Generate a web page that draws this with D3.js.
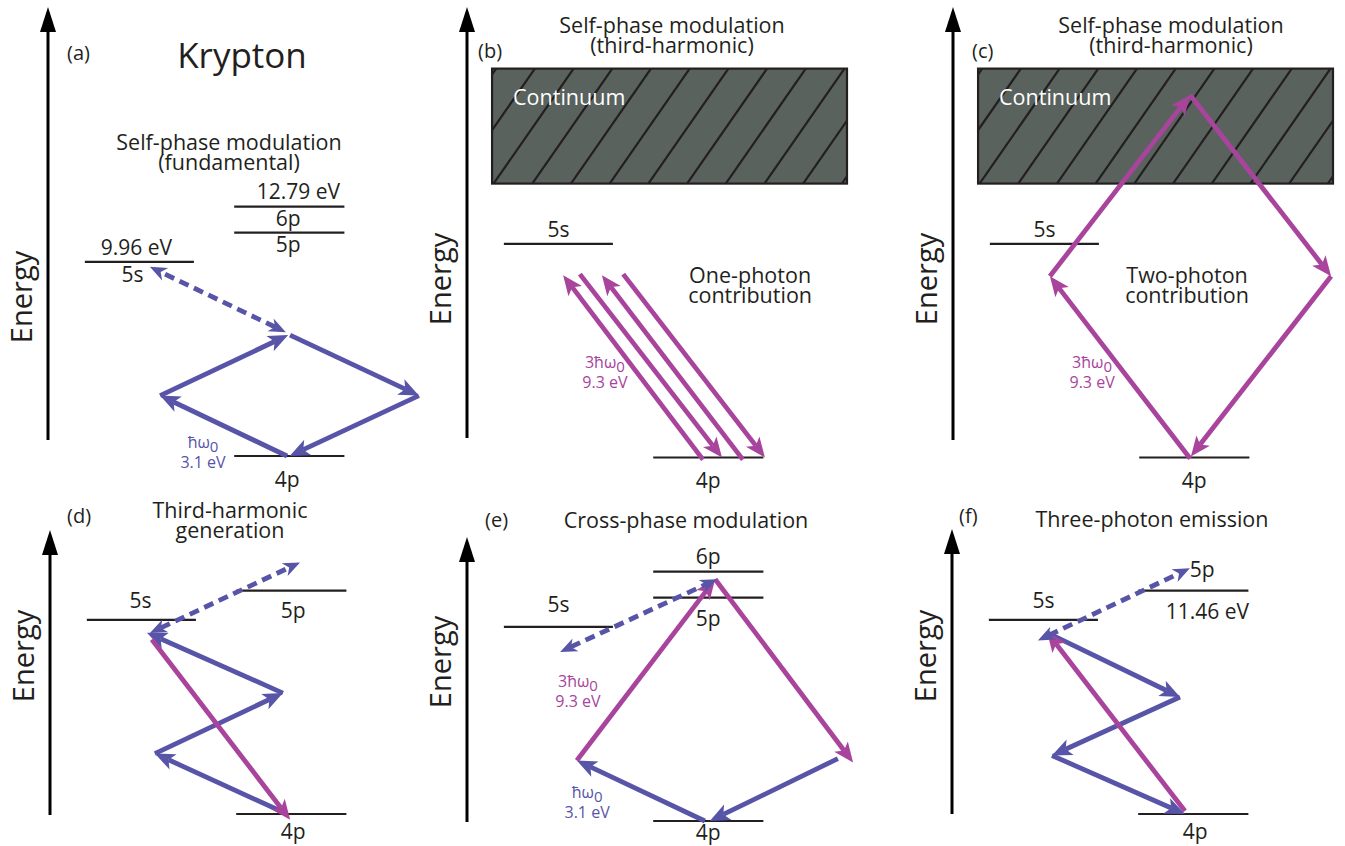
<!DOCTYPE html>
<html>
<head>
<meta charset="utf-8">
<script src="https://cdn.jsdelivr.net/npm/d3@7"></script>
<style>
  body { margin: 0; background: #fff; }
  svg { display: block; }
  text { font-family: "Open Sans", "Noto Sans", sans-serif; fill: #231f20; }
</style>
</head>
<body>
<svg id="chart" width="1345" height="846"></svg>
<script>
// ---------------- data ----------------
// Krypton levels, energy in eV above the 4p ground state
const levelNames    = ['4p', '5s', '5p', '6p'];
const levelEnergies = [0, 9.96, 11.46, 12.79];

// Photon energies (eV)
const photonFundamental = 3.1;
const photonThird = 9.3;

// Which levels appear in each panel, and the column (L / R) they sit in
const levelsA = [['5s', 'L'], ['5p', 'R'], ['6p', 'R'], ['4p', 'R']];
const levelsB = [['5s', 'L'], ['4p', 'R']];
const levelsC = [['5s', 'L'], ['4p', 'R']];
const levelsD = [['5s', 'L'], ['5p', 'R'], ['4p', 'R']];
const levelsE = [['5s', 'L'], ['5p', 'R'], ['6p', 'R'], ['4p', 'R']];
const levelsF = [['5s', 'L'], ['5p', 'R'], ['4p', 'R']];

// Continuum band drawn in the third-harmonic panels (eV, schematic)
const continuumBand = [12.77, 18.13];

// Transitions: [kind, x0, e0, x1, e1, heads]
//   kind: 'w' = fundamental photon, '3w' = third-harmonic photon, 'v' = virtual/coupling (dashed)
//   x in diagram units (0-100 across a panel), e in eV
const transA = [
  ['w', 62.9, 0, 29.5, 3.1, 'end'],
  ['w', 29.5, 3.1, 63.2, 6.2, 'end'],
  ['w', 63.7, 6.2, 97.6, 3.1, 'end'],
  ['w', 97.6, 3.1, 63.6, 0, 'end'],
  ['v', 62.6, 6.35, 26.8, 9.7, 'both']
];
const transB = [
  ['3w', 62.1, -0.1, 25.3, 8.5, 'end'],
  ['3w', 29.7, 8.55, 67.1, 0, 'end'],
  ['3w', 72.6, -0.1, 35.5, 8.5, 'end'],
  ['3w', 41.1, 8.55, 78.4, 0, 'end']
];
const transC = [
  ['3w', 62.4, -0.05, 25.5, 8.45, 'end'],
  ['3w', 25.5, 8.45, 62.4, 16.9, 'end'],
  ['3w', 62.4, 16.9, 99.5, 8.45, 'end'],
  ['3w', 99.5, 8.45, 62.6, 0.05, 'end']
];
const transD = [
  ['w', 62.4, 0, 27.6, 3.1, 'end'],
  ['w', 27.6, 3.1, 61.3, 6.2, 'end'],
  ['w', 61.3, 6.2, 25.5, 9.3, 'end'],
  ['3w', 26.8, 8.95, 63.2, -0.3, 'end'],
  ['v', 26.3, 9.28, 65.8, 12.9, 'both']
];
const transE = [
  ['w', 62.6, 0, 28.9, 3.1, 'end'],
  ['w', 97.6, 3.2, 63.9, 0, 'end'],
  ['3w', 28.9, 3.1, 65.3, 12.4, 'end'],
  ['3w', 65.3, 12.4, 101.6, 3.0, 'end'],
  ['v', 24.5, 8.67, 65.8, 12.4, 'both']
];
const transF = [
  ['w', 25.0, 9.3, 60.0, 6.0, 'end'],
  ['w', 60.0, 6.0, 26.3, 3.0, 'end'],
  ['w', 26.3, 3.0, 61.3, 0, 'end'],
  ['3w', 61.3, 0.15, 25.0, 9.33, 'end'],
  ['v', 22.6, 8.9, 62.6, 12.6, 'both']
];

const panelKeys = ['a', 'b', 'c', 'd', 'e', 'f'];
const panelTitles = [
  ['Self-phase modulation', '(fundamental)'],
  ['Self-phase modulation', '(third-harmonic)'],
  ['Self-phase modulation', '(third-harmonic)'],
  ['Third-harmonic', 'generation'],
  ['Cross-phase modulation'],
  ['Three-photon emission']
];

// ---------------- layout ----------------
const INK = '#231f20', BLUE = '#5854a8', MAGENTA = '#a8449c', CONT = '#5a625e';
const colour = { w: BLUE, '3w': MAGENTA, v: BLUE };

// frame of each panel: energy axis x, pixel of 0 eV, px per eV, axis extent
const frames = {
  a: { ax: 48,  y0: 456,   k: 19.5,  top: 7,   bottom: 440 },
  b: { ax: 467, y0: 457.5, k: 21.45, top: 7,   bottom: 438 },
  c: { ax: 953, y0: 457.5, k: 21.45, top: 7,   bottom: 440 },
  d: { ax: 50,  y0: 814,   k: 19.5,  top: 530, bottom: 815 },
  e: { ax: 467, y0: 821,   k: 19.5,  top: 537, bottom: 822 },
  f: { ax: 952, y0: 814,   k: 19.5,  top: 529, bottom: 814 }
};
const laneSpan = { L: [9.7, 38.4], R: [49, 78] };

const levelSets = { a: levelsA, b: levelsB, c: levelsC, d: levelsD, e: levelsE, f: levelsF };
const transSets = { a: transA, b: transB, c: transC, d: transD, e: transE, f: transF };

const energyOf = name => levelEnergies[levelNames.indexOf(name)];

const svg = d3.select('#chart');

function scalesFor(key) {
  const f = frames[key];
  return {
    x: d3.scaleLinear().domain([0, 100]).range([f.ax, f.ax + 380]),
    y: d3.scaleLinear().domain([0, 1]).range([f.y0, f.y0 - f.k])
  };
}

// barbed arrowhead with its tip at (tx, ty) pointing along ang
function headPath(tx, ty, ang, L, W, N) {
  const c = Math.cos(ang), s = Math.sin(ang);
  const p = (u, v) => [tx + u * c - v * s, ty + u * s + v * c];
  return 'M' + [p(0, 0), p(-L, -W), p(-L + N, 0), p(-L, W)].map(q => q.join(',')).join('L') + 'Z';
}

function drawArrow(g, x0, y0, x1, y1, col, heads, dashed) {
  const L = dashed ? 17 : 20, W = dashed ? 7 : 8.5, N = 5;
  const ang = Math.atan2(y1 - y0, x1 - x0);
  const ux = Math.cos(ang), uy = Math.sin(ang);
  const cut = L - N;
  const sx = heads === 'both' ? x0 + ux * cut : x0, sy = heads === 'both' ? y0 + uy * cut : y0;
  const ex = x1 - ux * cut, ey = y1 - uy * cut;
  g.append('line')
    .attr('x1', sx).attr('y1', sy).attr('x2', ex).attr('y2', ey)
    .attr('stroke', col).attr('stroke-width', 4.8)
    .attr('stroke-dasharray', dashed ? '10,6' : null);
  g.append('path').attr('d', headPath(x1, y1, ang, L, W, N)).attr('fill', col);
  if (heads === 'both') g.append('path').attr('d', headPath(x0, y0, ang + Math.PI, L, W, N)).attr('fill', col);
}

function photonLabel(g, x, y, prefix, value, col) {
  const t = g.append('text').attr('x', x).attr('y', y).attr('text-anchor', 'middle')
    .style('font-size', '16px').style('fill', col);
  t.append('tspan').text(prefix + 'ħω');
  t.append('tspan').attr('dy', 4).style('font-size', '15px').text('0');
  g.append('text').attr('x', x).attr('y', y + 20).attr('text-anchor', 'middle')
    .style('font-size', '16px').style('fill', col).text(value + ' eV');
}

// level label placement: [text, level, dy from line (px), dx from lane centre (px)]
const levelLabels = {
  a: [['9.96 eV', '5s', -7, -3], ['5s', '5s', 20, -7], ['12.79 eV', '6p', -8, 9], ['6p', '6p', 19, -1], ['5p', '5p', 19, -1], ['4p', '4p', 31, -2]],
  b: [['5s', '5s', -7, 0], ['4p', '4p', 30, 0]],
  c: [['5s', '5s', -7, 0], ['4p', '4p', 30, 0]],
  d: [['5s', '5s', -12, -1], ['5p', '5p', 27, 2], ['4p', '4p', 25, 2]],
  e: [['6p', '6p', -8, 0], ['5p', '5p', 28, 0], ['5s', '5s', -15, 0], ['4p', '4p', 19, 0]],
  f: [['5s', '5s', -12, 0], ['5p', '5p', -14, 9], ['11.46 eV', '5p', 28, 14], ['4p', '4p', 25, 2]]
};

const panelTag = {
  a: [67, 60], b: [478, 58], c: [972, 58], d: [67, 523], e: [485, 527], f: [959, 523]
};
const titlePos = {
  a: [229, 150], b: [672, 33], c: [1171, 33], d: [230, 518], e: [686, 528], f: [1152, 527]
};
const energyLabelY = { a: 297, b: 279, c: 279, d: 656, e: 662, f: 656 };

panelKeys.forEach((key, i) => {
  const f = frames[key];
  const s = scalesFor(key);
  const g = svg.append('g').attr('class', 'panel-' + key);

  // continuum band
  if (key === 'b' || key === 'c') {
    const rx0 = s.x(6.6), rx1 = s.x(100), ry0 = s.y(continuumBand[1]), ry1 = s.y(continuumBand[0]);
    const clipId = 'clip-' + key;
    svg.append('clipPath').attr('id', clipId)
      .append('rect').attr('x', rx0).attr('y', ry0).attr('width', rx1 - rx0).attr('height', ry1 - ry0);
    g.append('rect').attr('x', rx0).attr('y', ry0).attr('width', rx1 - rx0).attr('height', ry1 - ry0)
      .attr('fill', CONT);
    const hatch = g.append('g').attr('clip-path', `url(#${clipId})`);
    d3.range(-3, 12).forEach(n => {
      const xb = rx0 + 1.5 + n * 38.7;
      hatch.append('line').attr('x1', xb).attr('y1', ry1).attr('x2', xb + 80).attr('y2', ry0)
        .attr('stroke', INK).attr('stroke-width', 2.2);
    });
    g.append('rect').attr('x', rx0).attr('y', ry0).attr('width', rx1 - rx0).attr('height', ry1 - ry0)
      .attr('fill', 'none').attr('stroke', INK).attr('stroke-width', 2.2);
    g.append('text').attr('x', rx0 + 21).attr('y', s.y(16.43)).style('fill', '#fff')
      .style('font-size', '21.5px').text('Continuum');
  }

  // energy axis
  g.append('line').attr('x1', f.ax).attr('x2', f.ax).attr('y1', f.bottom).attr('y2', f.top + 20)
    .attr('stroke', '#000').attr('stroke-width', 3);
  g.append('path')
    .attr('d', `M${f.ax},${f.top}L${f.ax - 8},${f.top + 25}L${f.ax + 8},${f.top + 25}Z`)
    .attr('fill', '#000');
  g.append('text')
    .attr('transform', `translate(${f.ax - 16.5},${energyLabelY[key]}) rotate(-90)`)
    .attr('text-anchor', 'middle').style('font-size', '29px').text('Energy');

  // levels
  levelSets[key].forEach(([name, lane]) => {
    const yy = s.y(energyOf(name));
    g.append('line').attr('x1', s.x(laneSpan[lane][0])).attr('x2', s.x(laneSpan[lane][1]))
      .attr('y1', yy).attr('y2', yy).attr('stroke', INK).attr('stroke-width', 2.2);
  });
  levelLabels[key].forEach(([txt, name, dy, dx]) => {
    const lane = levelSets[key].find(d => d[0] === name)[1];
    const cx = (s.x(laneSpan[lane][0]) + s.x(laneSpan[lane][1])) / 2;
    g.append('text').attr('x', cx + dx).attr('y', s.y(energyOf(name)) + dy)
      .attr('text-anchor', 'middle').style('font-size', '21px').text(txt);
  });

  // transitions
  transSets[key].forEach(([kind, x0, e0, x1, e1, heads]) => {
    drawArrow(g, s.x(x0), s.y(e0), s.x(x1), s.y(e1), colour[kind], heads, kind === 'v');
  });

  // panel tag and title
  g.append('text').attr('x', panelTag[key][0]).attr('y', panelTag[key][1])
    .style('font-size', '20px').text(`(${key})`);
  panelTitles[i].forEach((line, j) => {
    g.append('text').attr('x', titlePos[key][0]).attr('y', titlePos[key][1] + j * 19.5)
      .attr('text-anchor', 'middle').style('font-size', '21.5px').text(line);
  });
});

// annotations
const sa = scalesFor('a'), sb = scalesFor('b'), sc = scalesFor('c'), se = scalesFor('e');
svg.append('text').attr('x', 242).attr('y', 68).attr('text-anchor', 'middle')
  .style('font-size', '35px').text('Krypton');

photonLabel(svg, sa.x(40.8), sa.y(0.41), '', photonFundamental, BLUE);
photonLabel(svg, sb.x(36.3), sb.y(4.17), '3', photonThird, MAGENTA);
photonLabel(svg, sc.x(36.6), sc.y(4.17), '3', photonThird, MAGENTA);
photonLabel(svg, se.x(29.2), se.y(6.87), '3', photonThird, MAGENTA);
photonLabel(svg, se.x(31.6), se.y(1.18), '', photonFundamental, BLUE);

[['One-photon', 'contribution', sb.x(74.5), sb.y(8.13)],
 ['Two-photon', 'contribution', sc.x(61.6), sc.y(8.13)]].forEach(([l1, l2, x, y]) => {
  svg.append('text').attr('x', x).attr('y', y).attr('text-anchor', 'middle').style('font-size', '21.5px').text(l1);
  svg.append('text').attr('x', x).attr('y', y + 20).attr('text-anchor', 'middle').style('font-size', '21.5px').text(l2);
});
</script>
</body>
</html>
